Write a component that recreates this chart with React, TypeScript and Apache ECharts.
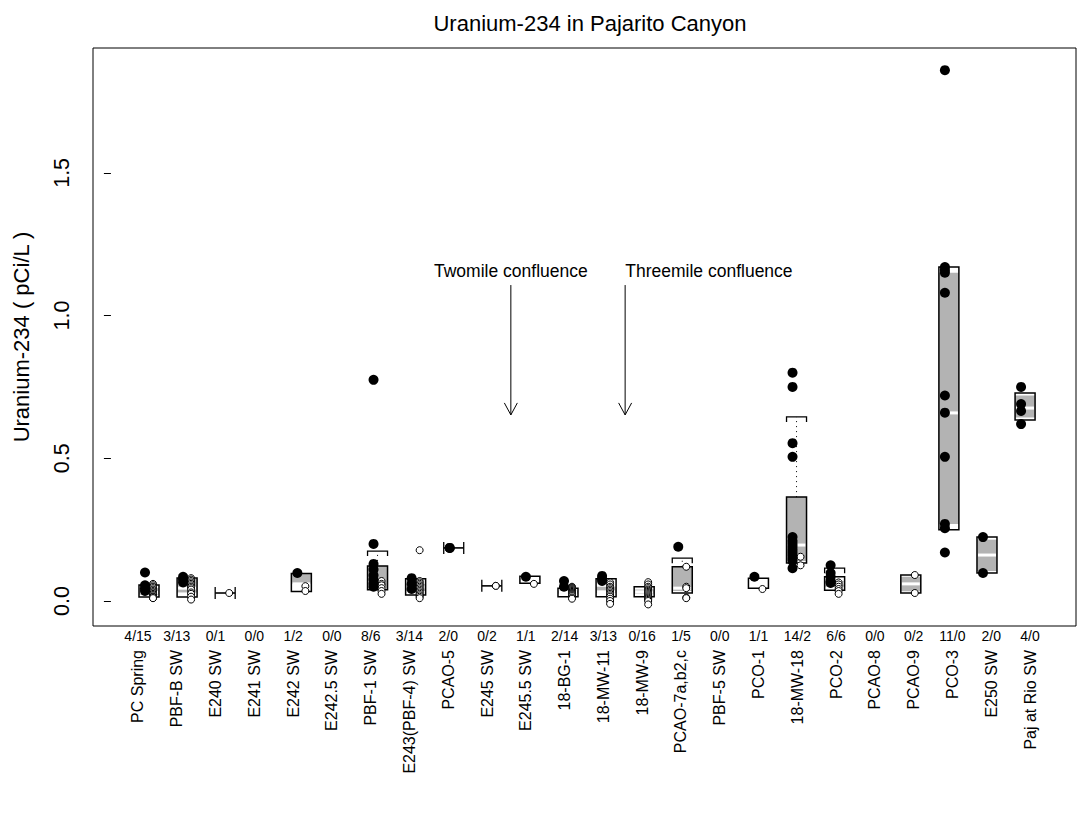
import React, { useEffect, useRef } from "react";
import * as echarts from "echarts";

const categories = ["PC Spring","PBF-B SW","E240 SW","E241 SW","E242 SW","E242.5 SW","PBF-1 SW","E243(PBF-4) SW","PCAO-5","E245 SW","E245.5 SW","18-BG-1","18-MW-11","18-MW-9","PCAO-7a,b2,c","PBF-5 SW","PCO-1","18-MW-18","PCO-2","PCAO-8","PCAO-9","PCO-3","E250 SW","Paj at Rio SW"];
const countLabels = ["4/15","3/13","0/1","0/0","1/2","0/0","8/6","3/14","2/0","0/2","1/1","2/14","3/13","0/16","1/5","0/0","1/1","14/2","6/6","0/0","0/2","11/0","2/0","4/0"];

// detected results (filled dots), per category
const detectValues: number[][] = [
  [0.10, 0.055, 0.045, 0.035],
  [0.085, 0.075, 0.065],
  [],
  [],
  [0.098],
  [],
  [0.775, 0.20, 0.13, 0.11, 0.09, 0.075, 0.06, 0.05],
  [0.08, 0.06, 0.042],
  [0.186, 0.186],
  [],
  [0.085],
  [0.07, 0.05],
  [0.088, 0.078, 0.07],
  [],
  [0.19],
  [],
  [0.085],
  [0.80, 0.75, 0.553, 0.505, 0.224, 0.21, 0.2, 0.19, 0.18, 0.17, 0.16, 0.15, 0.14, 0.115],
  [0.125, 0.098, 0.085, 0.072, 0.066, 0.063],
  [],
  [],
  [1.86, 1.17, 1.16, 1.15, 1.08, 0.72, 0.66, 0.505, 0.27, 0.255, 0.17],
  [0.224, 0.098],
  [0.75, 0.69, 0.666, 0.62],
];

// non-detects (open circles), per category
const nondetectValues: number[][] = [
  [0.06, 0.055, 0.05, 0.045, 0.04, 0.035, 0.03, 0.03, 0.025, 0.02, 0.02, 0.015, 0.015, 0.01, 0.01],
  [0.08, 0.075, 0.07, 0.065, 0.06, 0.055, 0.05, 0.045, 0.04, 0.03, 0.025, 0.015, 0.005],
  [0.028],
  [],
  [0.052, 0.035],
  [],
  [0.07, 0.06, 0.055, 0.045, 0.035, 0.025],
  [0.178, 0.07, 0.065, 0.06, 0.055, 0.05, 0.045, 0.04, 0.035, 0.03, 0.025, 0.02, 0.015, 0.01],
  [],
  [0.053, 0.053],
  [0.06],
  [0.05, 0.047, 0.044, 0.041, 0.038, 0.035, 0.032, 0.029, 0.026, 0.023, 0.02, 0.017, 0.012, 0.008],
  [0.065, 0.058, 0.05, 0.045, 0.04, 0.035, 0.03, 0.025, 0.02, 0.015, 0.008, 0.0, -0.01],
  [0.066, 0.058, 0.05, 0.045, 0.04, 0.036, 0.032, 0.028, 0.024, 0.02, 0.016, 0.012, 0.008, 0.004, 0.0, -0.012],
  [0.12, 0.05, 0.045, 0.012, 0.01],
  [],
  [0.042],
  [0.155, 0.125],
  [0.065, 0.058, 0.05, 0.042, 0.035, 0.025],
  [],
  [0.091, 0.028],
  [],
  [],
  [],
];

// [category position, outer low, q1, median, q3, outer high]
const boxStats: number[][] = [
  [1, 0.014, 0.022, 0.03, 0.045, 0.056],
  [2, 0.014, 0.03, 0.045, 0.078, 0.081],
  [5, 0.033, 0.06, 0.06, 0.096, 0.096],
  [7, 0.039, 0.039, 0.039, 0.123, 0.123],
  [8, 0.021, 0.035, 0.049, 0.06, 0.078],
  [11, 0.062, 0.073, 0.073, 0.073, 0.087],
  [12, 0.015, 0.026, 0.03, 0.036, 0.045],
  [13, 0.015, 0.028, 0.032, 0.05, 0.078],
  [14, 0.015, 0.026, 0.032, 0.04, 0.05],
  [15, 0.028, 0.035, 0.045, 0.12, 0.12],
  [17, 0.045, 0.063, 0.063, 0.063, 0.08],
  [18, 0.133, 0.14, 0.196, 0.364, 0.364],
  [19, 0.038, 0.05, 0.063, 0.07, 0.085],
  [21, 0.028, 0.034, 0.06, 0.085, 0.091],
  [22, 0.25, 0.27, 0.659, 1.15, 1.17],
  [23, 0.098, 0.105, 0.161, 0.215, 0.224],
  [24, 0.634, 0.643, 0.676, 0.72, 0.729],
];

// [category position, whisker start, cap value]
const whiskers: number[][] = [
  [7, 0.123, 0.175],
  [15, 0.12, 0.15],
  [18, 0.364, 0.645],
  [19, 0.085, 0.115],
];

// single-value range bars: [category position, value]
const rangeBars: number[][] = [
  [3, 0.028],
  [9, 0.186],
  [10, 0.053],
];

// annotations: [arrow x, arrow top, arrow tip, text x, text y]
const annotationTexts = ["Twomile confluence", "Threemile confluence"];
const annotationPos: number[][] = [
  [10.5, 1.107, 0.652, 10.5, 1.158],
  [13.5, 1.107, 0.652, 15.7, 1.158],
];

const yTicks = [0, 0.5, 1, 1.5];

const FONT = "Liberation Sans, Arial, Helvetica, sans-serif";

export default function App() {
  const ref = useRef<HTMLDivElement>(null);
  useEffect(() => {
    if (!ref.current) return;
    const chart = echarts.init(ref.current, null, { renderer: "svg" });

    const detData: number[][] = [];
    detectValues.forEach((arr, k) => arr.forEach((v) => detData.push([k + 1, v])));
    const ndData: number[][] = [];
    nondetectValues.forEach((arr, k) => arr.forEach((v) => ndData.push([k + 1, v])));

    const HW = 10;

    const option: any = {
      animation: false,
      backgroundColor: "#fff",
      textStyle: { fontFamily: FONT },
      title: {
        text: "Uranium-234 in Pajarito Canyon",
        left: 585,
        textAlign: "center",
        top: 7,
        textStyle: { fontFamily: FONT, fontSize: 22, fontWeight: "normal", color: "#000" },
      },
      grid: [
        { left: 93, right: 2, top: 48, bottom: 201, show: true, borderColor: "#000", borderWidth: 1, backgroundColor: "transparent" },
        { left: 118.6, right: 28.6, top: 48, bottom: 201, show: false },
      ],
      xAxis: [
        { type: "value", gridIndex: 0, min: -0.4702, max: 25.337, show: false },
        {
          type: "category", gridIndex: 1, position: "bottom", data: countLabels,
          axisLine: { show: false }, axisTick: { show: false }, splitLine: { show: false },
          axisLabel: { interval: 0, margin: 3, fontSize: 14, color: "#000", fontFamily: FONT },
        },
        {
          type: "category", gridIndex: 1, position: "bottom", data: categories,
          axisLine: { show: false }, axisTick: { show: false }, splitLine: { show: false },
          axisLabel: { interval: 0, rotate: 90, margin: 24, fontSize: 16, color: "#000", fontFamily: FONT },
        },
      ],
      yAxis: [
        {
          type: "value", gridIndex: 0, min: -0.0876, max: 1.9376,
          name: "Uranium-234 ( pCi/L )", nameLocation: "middle", nameGap: 61, nameRotate: 90,
          nameTextStyle: { fontSize: 22, color: "#000", fontFamily: FONT },
          axisLine: { show: false },
          splitLine: { show: false },
          axisTick: { show: true, length: 7, customValues: yTicks, lineStyle: { color: "#000" } },
          axisLabel: { customValues: yTicks, rotate: 90, margin: 20, fontSize: 21.5, color: "#000", fontFamily: FONT,
            formatter: (v: number) => v.toFixed(1) },
        },
        { type: "value", gridIndex: 1, show: false, min: 0, max: 1 },
      ],
      series: [
        {
          type: "custom", xAxisIndex: 0, yAxisIndex: 0, z: 2,
          data: boxStats,
          encode: { x: 0, y: [1, 5] },
          renderItem: (params: any, api: any) => {
            const i = api.value(0);
            const cx = api.coord([i, 0])[0];
            const yLo = api.coord([i, api.value(1)])[1];
            const yQ1 = api.coord([i, api.value(2)])[1];
            const yMed = api.coord([i, api.value(3)])[1];
            const yQ3 = api.coord([i, api.value(4)])[1];
            const yHi = api.coord([i, api.value(5)])[1];
            const children: any[] = [
              { type: "rect", shape: { x: cx - HW, y: yHi, width: 2 * HW, height: yLo - yHi }, style: { fill: "#fff", stroke: null } },
            ];
            if (yQ1 - yQ3 > 0.2) {
              children.push({ type: "rect", shape: { x: cx - HW, y: yQ3, width: 2 * HW, height: yQ1 - yQ3 }, style: { fill: "#b3b3b3", stroke: null } });
            }
            children.push({ type: "line", shape: { x1: cx - HW + 1, y1: yMed, x2: cx + HW - 1, y2: yMed }, style: { stroke: "#fff", lineWidth: 3 } });
            children.push({ type: "rect", shape: { x: cx - HW, y: yHi, width: 2 * HW, height: Math.max(yLo - yHi, 0.5) }, style: { fill: "none", stroke: "#000", lineWidth: 1.5 } });
            return { type: "group", children };
          },
        },
        {
          type: "custom", xAxisIndex: 0, yAxisIndex: 0, z: 2,
          data: whiskers,
          encode: { x: 0, y: [1, 2] },
          renderItem: (params: any, api: any) => {
            const i = api.value(0);
            const cx = api.coord([i, 0])[0];
            const y0 = api.coord([i, api.value(1)])[1];
            const yc = api.coord([i, api.value(2)])[1];
            return {
              type: "group",
              children: [
                { type: "line", shape: { x1: cx, y1: y0, x2: cx, y2: yc }, style: { stroke: "#000", lineWidth: 1, lineDash: [1, 4] } },
                { type: "polyline", shape: { points: [[cx - HW, yc + 5], [cx - HW, yc], [cx + HW, yc], [cx + HW, yc + 5]] }, style: { stroke: "#000", lineWidth: 1.3, fill: null } },
              ],
            };
          },
        },
        {
          type: "custom", xAxisIndex: 0, yAxisIndex: 0, z: 2,
          data: rangeBars,
          encode: { x: 0, y: 1 },
          renderItem: (params: any, api: any) => {
            const i = api.value(0);
            const p = api.coord([i, api.value(1)]);
            const cx = p[0], y = p[1];
            return {
              type: "group",
              children: [
                { type: "line", shape: { x1: cx - HW, y1: y, x2: cx + HW, y2: y }, style: { stroke: "#000", lineWidth: 1.6 } },
                { type: "line", shape: { x1: cx - HW, y1: y - 6, x2: cx - HW, y2: y + 6 }, style: { stroke: "#000", lineWidth: 1.3 } },
                { type: "line", shape: { x1: cx + HW, y1: y - 6, x2: cx + HW, y2: y + 6 }, style: { stroke: "#000", lineWidth: 1.3 } },
              ],
            };
          },
        },
        {
          type: "scatter", xAxisIndex: 0, yAxisIndex: 0, z: 3,
          data: ndData, symbol: "circle", symbolSize: 7, symbolOffset: [4, 0],
          itemStyle: { color: "#fff", borderColor: "#000", borderWidth: 1, opacity: 1 },
          emphasis: { disabled: true },
        },
        {
          type: "scatter", xAxisIndex: 0, yAxisIndex: 0, z: 4,
          data: detData, symbol: "circle", symbolSize: 10, symbolOffset: [-4, 0],
          itemStyle: { color: "#000", opacity: 1 },
          emphasis: { disabled: true },
        },
        {
          type: "custom", xAxisIndex: 0, yAxisIndex: 0, z: 5,
          data: annotationPos,
          encode: { x: 0, y: [1, 2] },
          renderItem: (params: any, api: any) => {
            const x = api.value(0);
            const top = api.coord([x, api.value(1)]);
            const tip = api.coord([x, api.value(2)]);
            const tp = api.coord([api.value(3), api.value(4)]);
            const hl = 12, hw = 6.5;
            return {
              type: "group",
              children: [
                { type: "line", shape: { x1: top[0], y1: top[1], x2: tip[0], y2: tip[1] }, style: { stroke: "#000", lineWidth: 1 } },
                { type: "polyline", shape: { points: [[tip[0] - hw, tip[1] - hl], [tip[0], tip[1]], [tip[0] + hw, tip[1] - hl]] }, style: { stroke: "#000", lineWidth: 1, fill: null } },
                { type: "text", x: tp[0], y: tp[1], style: { text: annotationTexts[params.dataIndex], fontSize: 17.5, fontFamily: FONT, fill: "#000", align: "center", verticalAlign: "middle" } },
              ],
            };
          },
        },
      ],
    };
    chart.setOption(option);
    return () => chart.dispose();
  }, []);
  return <div ref={ref} style={{ position: "fixed", left: 0, top: 0, width: 1078, height: 827, background: "#fff" }} />;
}
